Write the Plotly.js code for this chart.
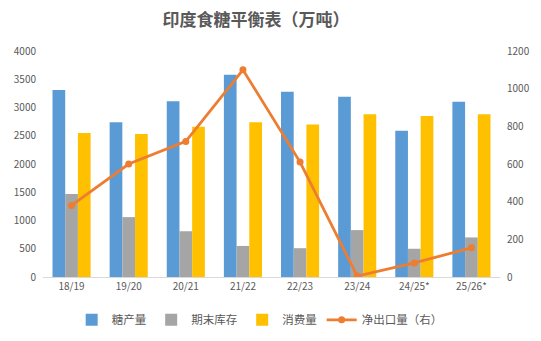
<!DOCTYPE html>
<html>
<head>
<meta charset="utf-8">
<script src="https://cdn.plot.ly/plotly-3.0.1.min.js"></script>
<style>html,body{margin:0;padding:0;background:#fff}#chart{width:541px;height:341px}</style>
</head>
<body>
<div id="chart"></div>
<script>
const categories = ["18/19","19/20","20/21","21/22","22/23","23/24","24/25*","25/26*"];
const production = [3310, 2740, 3110, 3580, 3280, 3190, 2590, 3100];
const endingStock = [1470, 1060, 810, 550, 510, 830, 500, 700];
const consumption = [2550, 2530, 2660, 2740, 2700, 2880, 2850, 2880];
const netExports = [380, 600, 720, 1100, 610, 5, 75, 155];

const font = "'Noto Sans CJK SC', 'Noto Sans', sans-serif";
const traces = [
  {type:"bar", name:"糖产量", x:categories, y:production, marker:{color:"#5B9BD5"}},
  {type:"bar", name:"期末库存", x:categories, y:endingStock, marker:{color:"#A5A5A5"}},
  {type:"bar", name:"消费量", x:categories, y:consumption, marker:{color:"#FFC000"}},
  {type:"scatter", mode:"lines+markers", name:"净出口量（右）", x:categories, y:netExports, yaxis:"y2",
   line:{color:"#ED7D31", width:2.8}, marker:{color:"#ED7D31", size:7}}
];
const layout = {
  width:541, height:341,
  margin:{l:43, r:41, t:51, b:64},
  paper_bgcolor:"#fff", plot_bgcolor:"#fff",
  font:{family:font, color:"#595959", size:10},
  title:{text:"印度食糖平衡表（万吨）", x:0.473, xanchor:"center", y:0.94, yanchor:"middle",
         font:{family:font, size:17, color:"#595959", weight:"bold"}},
  barmode:"group", bargap:0.333, bargroupgap:0,
  showlegend:true,
  legend:{orientation:"h", x:0.48, xanchor:"center", xref:"container", yref:"container", y:0.062, yanchor:"middle",
          font:{family:font, size:11.5, color:"#595959"}, traceorder:"normal", itemwidth:30},
  xaxis:{showgrid:false, showline:true, linecolor:"#D9D9D9", linewidth:1, ticks:"",
         tickfont:{family:font, size:10, color:"#595959"}, fixedrange:true},
  yaxis:{range:[0,4000], dtick:500, showgrid:false, zeroline:false, showline:false,
         tickfont:{family:font, size:10, color:"#595959"}, ticklabelstandoff:6},
  yaxis2:{overlaying:"y", side:"right", range:[0,1200], dtick:200, showgrid:false, zeroline:false,
          showline:false, tickfont:{family:font, size:10, color:"#595959"}, ticklabelstandoff:6}
};
Plotly.newPlot("chart", traces, layout, {displayModeBar:false, staticPlot:true});
</script>
</body>
</html>
